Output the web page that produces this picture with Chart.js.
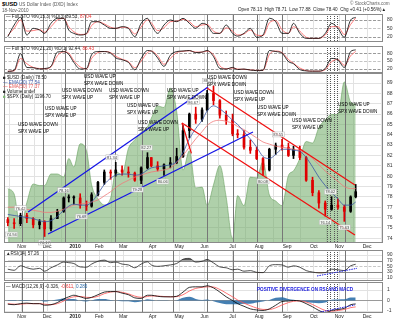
<!DOCTYPE html>
<html>
<head>
<meta charset="utf-8">
<title>$USD US Dollar Index</title>
<script src="https://cdn.jsdelivr.net/npm/chart.js"></script>
<style>
  html, body { margin: 0; padding: 0; background: #fff; }
  body { position: relative; width: 400px; height: 323px; overflow: hidden; font-family: "Liberation Sans", Arial, sans-serif; }
  canvas { position: absolute; left: 0; }
  .t { position: absolute; white-space: nowrap; font-size: 4.6px; line-height: 5px; color: #222; }
  .w { position: absolute; white-space: nowrap; font-size: 4.6px; line-height: 7px; color: #000; }
</style>
</head>
<body>
<canvas id="sto1" width="400" height="28" style="top:14px"></canvas>
<canvas id="sto2" width="400" height="27" style="top:46px"></canvas>
<canvas id="main" width="400" height="177" style="top:73px"></canvas>
<canvas id="rsi" width="400" height="31" style="top:250px"></canvas>
<canvas id="macd" width="400" height="38" style="top:282px"></canvas>

<div class="t" style="left:2px;top:0.5px;font-size:5.8px;line-height:6px;font-weight:bold;color:#000">$USD</div>
<div class="t" style="left:19px;top:1.5px;color:#555">US Dollar Index (DXD) Index</div>
<div class="t" style="left:2px;top:7.5px;color:#555">18-Nov-2010</div>
<div class="t" style="left:350px;top:1px;color:#666">&copy; StockCharts.com</div>
<div class="t" style="left:238px;top:7px;color:#222">Open 78.13&nbsp; High 78.71&nbsp; Low 77.88&nbsp; Close 78.40&nbsp; Chg +0.41 (+0.56%)&#9650;</div>

<div class="t" style="left:6px;top:13.5px">&mdash; Full STO %K(15,3) %D(3) 89.53, <span style="color:#e33">87.04</span></div>
<div class="t" style="left:6px;top:45.5px">&mdash; Full STO %K(21,20) %D(1) 92.44, <span style="color:#e33">86.43</span></div>

<div class="t" style="left:3px;top:74.5px">&#9632; $USD (Daily) 78.50</div>
<div class="t" style="left:3px;top:79.5px;color:#3a55a5">&mdash; EMA(20) 77.54</div>
<div class="t" style="left:3px;top:84px;color:#e25555">&mdash; EMA(50) 77.37</div>
<div class="t" style="left:3px;top:88.8px">&#9632; Volume undef</div>
<div class="t" style="left:3px;top:93.5px"><span style="color:#7db574">&#9632;</span> $SPX (Daily) 1196.70</div>

<div class="t" style="left:6px;top:250.5px">&#9650;RSI(14) 57.26</div>
<div class="t" style="left:6px;top:283.5px">&mdash; MACD(12,26,9) -0.326, <span style="color:#e33">-0.611</span>, <span style="color:#2b6aa8">0.285</span></div>
<div class="t" style="left:257px;top:286.5px;font-weight:bold;color:#1c1ce0">POSITIVE DIVERGENCE ON RSI AND MACD</div>

<div id="notes"></div>

<script>
// trading-day index of each weekly sample (Oct 16 2009 ... Nov 18 2010)
const days = [2, 7, 12, 17, 22, 27, 31, 36, 41, 46, 50, 54, 59, 64, 68, 73, 78, 83, 87, 92,
  97, 102, 107, 112, 115, 120, 125, 130, 135, 140, 145, 150, 155, 159, 164, 169, 174, 179, 183, 188,
  193, 198, 203, 208, 213, 218, 223, 227, 232, 237, 242, 247, 252, 257, 262, 267, 272, 276]

// $USD weekly candles
const closes = [75.5, 75.4, 76.2, 75.9, 75.3, 75.6, 74.9, 75.9, 76.6, 77.9, 77.9, 77.9, 77.2, 77.1, 78.2, 79.4, 80.4, 80.3, 80.6, 80.4,
  80.3, 79.6, 80.8, 81.8, 81.0, 80.7, 81.1, 81.3, 81.9, 84.4, 86.0, 85.5, 86.4, 88.0, 87.3, 85.9, 85.4, 84.1, 84.0, 82.8,
  82.5, 81.7, 80.6, 82.6, 83.0, 82.8, 82.0, 82.6, 81.8, 79.6, 78.4, 77.4, 76.8, 77.2, 77.0, 76.6, 78.0, 78.5]
const highs = [76.0, 75.9, 76.42, 76.4, 76.0, 75.8, 75.7, 76.2, 76.8, 78.0, 78.2, 78.1, 78.3, 77.6, 78.4, 79.5, 80.6, 80.6, 81.34, 81.0,
  80.9, 80.4, 80.9, 82.27, 81.8, 81.4, 81.2, 81.8, 82.7, 84.9, 86.1, 86.67, 86.6, 88.3, 88.71, 87.4, 86.3, 86.0, 84.5, 84.4,
  83.5, 82.8, 81.8, 82.7, 83.2, 83.55, 83.2, 82.9, 82.9, 81.9, 79.9, 78.6, 77.6, 78.02, 77.8, 77.2, 78.1, 79.2]
const lows = [75.2, 74.94, 75.2, 75.5, 75.0, 74.9, 74.17, 74.7, 75.9, 76.5, 77.5, 77.3, 76.9, 76.68, 77.0, 78.1, 79.2, 79.7, 80.0, 80.1,
  79.9, 79.5, 79.28, 80.7, 80.9, 80.5, 80.06, 80.8, 81.2, 81.8, 83.7, 85.1, 85.3, 86.3, 86.9, 85.6, 85.0, 83.9, 83.7, 82.6,
  82.2, 81.6, 80.08, 80.5, 82.1, 82.5, 81.9, 81.7, 81.6, 79.5, 78.1, 76.9, 76.14, 76.7, 76.8, 75.63, 76.5, 77.9]
const firstOpen = 75.8

const ema20 = [76.3, 76.2, 76.1, 76.0, 75.9, 75.7, 75.6, 75.7, 76.1, 76.7, 77.1, 77.3, 77.2, 77.2, 77.5, 78.3, 79.2, 79.8, 80.1, 80.2,
  80.2, 80.1, 80.2, 80.6, 80.8, 80.9, 81.0, 81.1, 81.4, 82.3, 83.6, 84.6, 85.4, 86.3, 86.8, 86.5, 86.0, 85.4, 85.0, 84.3,
  83.6, 82.8, 81.9, 81.7, 82.1, 82.6, 82.6, 82.5, 82.4, 81.8, 80.9, 79.9, 79.1, 78.4, 77.8, 77.2, 77.2, 77.5]
const ema50 = [77.0, 77.0, 76.9, 76.8, 76.7, 76.6, 76.5, 76.5, 76.6, 76.8, 77.0, 77.2, 77.3, 77.4, 77.5, 77.7, 78.1, 78.5, 78.9, 79.3,
  79.6, 79.9, 80.1, 80.3, 80.4, 80.5, 80.6, 80.8, 81.3, 82.0, 82.8, 83.6, 84.3, 84.9, 85.3, 85.4, 85.3, 85.1, 84.8, 84.5,
  84.1, 83.7, 83.3, 83.1, 82.9, 82.8, 82.7, 82.6, 82.5, 82.2, 81.7, 81.1, 80.5, 80.0, 79.5, 79.0, 78.8, 78.8]

// $SPX overlay (green area)
const spx = [1087, 1080, 1036, 1069, 1093, 1091, 1091, 1106, 1106, 1102, 1126, 1115, 1145, 1136, 1092, 1074, 1066, 1075, 1109, 1105,
  1139, 1150, 1160, 1167, 1178, 1194, 1192, 1217, 1187, 1111, 1136, 1088, 1089, 1065, 1092, 1117, 1076, 1022, 1078, 1065,
  1102, 1101, 1122, 1079, 1071, 1065, 1104, 1110, 1126, 1148, 1146, 1166, 1176, 1183, 1183, 1225, 1199, 1196]

const sto1K = [20, 62, 90, 26, 50, 44, 32, 68, 86, 86, 44, 32, 26, 32, 74, 74, 62, 50, 50, 56,
  50, 20, 68, 86, 62, 32, 62, 80, 74, 86, 68, 50, 68, 62, 32, 32, 62, 32, 22, 32,
  50, 18, 26, 86, 74, 32, 32, 68, 32, 14, 14, 14, 32, 68, 50, 18, 80, 89.5]
const sto1D = [25, 50, 80, 40, 42, 46, 36, 56, 80, 86, 56, 38, 28, 30, 60, 74, 66, 54, 50, 54,
  52, 30, 55, 80, 70, 42, 52, 74, 76, 82, 74, 56, 62, 64, 40, 32, 52, 40, 26, 30,
  44, 26, 24, 70, 78, 45, 32, 56, 40, 18, 14, 14, 26, 56, 56, 28, 64, 87]
const sto2K = [11, 15, 78, 26, 25, 20, 22, 30, 84, 86, 75, 45, 20, 22, 74, 86, 86, 80, 62, 55,
  45, 17, 60, 90, 88, 62, 30, 72, 86, 88, 90, 82, 84, 90, 67, 22, 20, 26, 18, 20,
  16, 14, 15, 90, 86, 80, 48, 40, 18, 13, 12, 12, 22, 60, 55, 26, 86, 92.4]
const sto2D = [12, 13, 60, 40, 26, 22, 21, 28, 70, 85, 80, 52, 28, 21, 60, 82, 86, 82, 68, 57,
  48, 25, 50, 82, 88, 70, 38, 60, 82, 87, 89, 84, 84, 88, 74, 32, 21, 24, 20, 19,
  17, 15, 15, 75, 88, 82, 56, 42, 24, 14, 12, 12, 18, 48, 56, 34, 70, 86.4]

const rsi = [40, 36, 52, 45, 40, 43, 33, 45, 55, 65, 63, 60, 48, 47, 58, 68, 72, 63, 65, 58,
  55, 45, 58, 66, 55, 50, 52, 55, 60, 75, 78, 65, 68, 74, 62, 48, 45, 38, 40, 33,
  35, 29, 28, 52, 56, 55, 47, 52, 47, 35, 30, 27, 28, 40, 38, 35, 52, 57.3]

const macd = [-0.35, -0.4, -0.3, -0.25, -0.3, -0.3, -0.45, -0.4, -0.2, 0.15, 0.35, 0.5, 0.35, 0.2, 0.3, 0.55, 0.8, 0.85, 0.85, 0.7,
  0.55, 0.25, 0.2, 0.5, 0.5, 0.4, 0.35, 0.35, 0.4, 0.8, 1.25, 1.3, 1.3, 1.4, 1.2, 0.8, 0.35, 0.0, -0.3, -0.55,
  -0.8, -0.9, -0.95, -0.8, -0.45, -0.1, -0.05, 0.0, -0.05, -0.3, -0.6, -0.95, -1.15, -0.95, -0.85, -0.75, -0.4, -0.33]
const signal = [-0.3, -0.35, -0.35, -0.3, -0.3, -0.3, -0.35, -0.4, -0.3, -0.05, 0.2, 0.35, 0.38, 0.3, 0.28, 0.4, 0.65, 0.8, 0.85, 0.78,
  0.63, 0.42, 0.3, 0.38, 0.43, 0.42, 0.38, 0.35, 0.37, 0.55, 0.9, 1.15, 1.25, 1.3, 1.28, 1.05, 0.7, 0.35, 0.05, -0.25,
  -0.5, -0.72, -0.85, -0.85, -0.7, -0.42, -0.2, -0.08, -0.05, -0.15, -0.38, -0.68, -0.95, -1.02, -0.95, -0.86, -0.68, -0.61]
const hist = [-0.05, -0.05, 0.05, 0.05, 0, 0, -0.1, 0, 0.1, 0.2, 0.15, 0.15, -0.03, -0.1, 0.02, 0.15, 0.15, 0.05, 0, -0.08,
  -0.08, -0.17, -0.1, 0.12, 0.07, -0.02, -0.03, 0, 0.03, 0.25, 0.35, 0.15, 0.05, 0.1, -0.08, -0.25, -0.35, -0.35, -0.35, -0.3,
  -0.3, -0.18, -0.1, 0.05, 0.25, 0.32, 0.15, 0.08, 0, -0.15, -0.22, -0.27, -0.2, 0.07, 0.1, 0.11, 0.28, 0.285]

// axis labels
const monthDays = [13, 33, 55, 74, 93, 116, 137, 157, 179, 200, 222, 243, 263, 285]
const monthNames = ['Nov', 'Dec', '2010', 'Feb', 'Mar', 'Apr', 'May', 'Jun', 'Jul', 'Aug', 'Sep', 'Oct', 'Nov', 'Dec']
const priceTicks = [74, 75, 76, 77, 78, 79, 80, 81, 82, 83, 84, 85, 86, 87, 88, 89]

// annotations drawn on the chart
const markDays = [13, 30, 47.1, 62.8, 86.5, 107.5, 132.1, 158.7, 179.4, 198, 217.7, 267.6]
const dotDays = [253.4, 256.1, 258.9, 261.3]
const hiloDays = [12, 5, 31, 46, 60, 84, 104, 111, 124, 148, 160, 203, 215, 256, 252, 267]
const hiloText = ['76.42', '74.94', '74.17', '78.16', '76.68', '81.34', '79.28', '82.27', '80.06', '86.67', '88.71', '80.08', '83.55', '78.02', '76.14', '75.63']
const hiloSide = [1, -1, -1, 1, -1, 1, -1, 1, -1, 1, 1, -1, 1, 1, -1, -1]
const trendLines = [
  { color: '#1515e6', from: [18, 76.54], to: [159.7, 88.61] },
  { color: '#1515e6', from: [33.7, 74.41], to: [195.1, 84.27] },
  { color: '#f01010', from: [158.9, 88.52], to: [275.4, 79.14] },
  { color: '#f01010', from: [139.2, 85.14], to: [275.4, 74.31] },
  { color: '#f01010', from: [139.2, 85.14], to: [146.6, 82.2] }
]
const waveNotes = [
  [18, 120.5, 'USD WAVE DOWN', 'SPX WAVE UP'],
  [45, 104.5, 'USD WAVE UP', 'SPX WAVE UP'],
  [62, 86.5, 'USD WAVE DOWN', 'SPX WAVE UP'],
  [84, 72.5, 'USD WAVE UP', 'SPX WAVE DOWN'],
  [109, 86.5, 'USD WAVE DOWN', 'SPX WAVE UP'],
  [127, 101.5, 'USD WAVE UP', 'SPX WAVE UP'],
  [138, 118.5, 'USD WAVE DOWN', 'SPX WAVE UP'],
  [167, 86.5, 'USD WAVE UP', 'SPX WAVE DOWN'],
  [207, 73.5, 'USD WAVE DOWN', 'SPX WAVE DOWN'],
  [234, 89, 'USD WAVE DOWN', 'SPX WAVE UP'],
  [257, 103.5, 'USD WAVE UP', 'SPX WAVE DOWN'],
  [292, 116.5, 'USD WAVE DOWN', 'SPX WAVE UP'],
  [338, 101, 'USD WAVE UP', 'SPX WAVE DOWN']
]

const notes = document.getElementById('notes')
for (const [left, top, a, b] of waveNotes) {
  const d = document.createElement('div')
  d.className = 'w'
  d.style.left = left + 'px'
  d.style.top = top + 'px'
  d.innerHTML = a + '<br>' + b
  notes.appendChild(d)
}

const FONT = '"Liberation Sans", Arial, sans-serif'
const pts = arr => days.map((d, i) => ({ x: d, y: arr[i] }))

function drawMarks (chart) {
  const { ctx, chartArea: a, scales: { x } } = chart
  ctx.save()
  ctx.lineWidth = 1
  ctx.strokeStyle = '#777'
  for (const d of markDays) {
    const p = Math.round(x.getPixelForValue(d)) + 0.5
    ctx.beginPath(); ctx.moveTo(p, a.top); ctx.lineTo(p, a.bottom); ctx.stroke()
  }
  ctx.setLineDash([1, 1])
  ctx.strokeStyle = '#555'
  for (const d of dotDays) {
    const p = Math.round(x.getPixelForValue(d)) + 0.5
    ctx.beginPath(); ctx.moveTo(p, a.top); ctx.lineTo(p, a.bottom); ctx.stroke()
  }
  ctx.restore()
}

// per-panel decoration: guide lines, annotation verticals, frame
function decor (opts) {
  return {
    id: 'decor',
    beforeDatasetsDraw (chart) {
      const { ctx, chartArea: a, scales: { y } } = chart
      ctx.save()
      for (const h of (opts.hlines || [])) {
        const p = Math.round(y.getPixelForValue(h.v)) + 0.5
        ctx.strokeStyle = h.c
        ctx.lineWidth = 1
        ctx.setLineDash(h.d || [])
        ctx.beginPath(); ctx.moveTo(a.left, p); ctx.lineTo(a.right, p); ctx.stroke()
      }
      ctx.restore()
      if (opts.markAfter === undefined) drawMarks(chart)
    },
    afterDatasetDraw (chart, args) {
      if (opts.markAfter === args.index) drawMarks(chart)
    },
    afterDatasetsDraw (chart) {
      if (opts.extra) opts.extra(chart)
      const { ctx, chartArea: a } = chart
      ctx.save()
      ctx.strokeStyle = '#8a8a8a'
      ctx.lineWidth = 1
      ctx.setLineDash([])
      ctx.strokeRect(Math.round(a.left) + 0.5, Math.round(a.top) + 0.5, Math.round(a.right - a.left) - 1, Math.round(a.bottom - a.top) - 1)
      ctx.restore()
    }
  }
}

function baseOptions (yMin, yMax, yTicks, showX, gridY) {
  return {
    responsive: false,
    animation: false,
    devicePixelRatio: 1,
    layout: { padding: { left: 4, right: 0, top: 0, bottom: 0 } },
    plugins: { legend: { display: false }, tooltip: { enabled: false } },
    elements: { point: { radius: 0 } },
    scales: {
      x: {
        type: 'linear', min: -1, max: 297.5, offset: false,
        afterBuildTicks: ax => { ax.ticks = monthDays.map(v => ({ value: v })) },
        afterFit: ax => { ax.height = showX ? 7 : 0; ax.paddingLeft = 0; ax.paddingRight = 0 },
        grid: { color: '#e2e2e2', drawTicks: false },
        border: { display: false },
        ticks: {
          display: showX, autoSkip: false, maxRotation: 0, padding: 1, color: '#222',
          font: c => ({ size: 5, family: FONT, weight: (c.tick && c.tick.label === '2010') ? 'bold' : 'normal' }),
          callback: (v, i) => monthNames[i]
        }
      },
      y: {
        position: 'right', min: yMin, max: yMax,
        afterBuildTicks: ax => { ax.ticks = yTicks.map(v => ({ value: v })) },
        afterFit: ax => { ax.width = 17; ax.paddingTop = 0; ax.paddingBottom = 0 },
        grid: { display: gridY, color: '#e2e2e2', drawTicks: false },
        border: { display: false },
        ticks: { autoSkip: false, padding: 4, color: '#333', font: { size: 5, family: FONT } }
      }
    }
  }
}

function line (data, color, order, extra) {
  return Object.assign({ type: 'line', data: pts(data), borderColor: color, borderWidth: 0.8, tension: 0.3, cubicInterpolationMode: 'monotone', fill: false, order: order }, extra || {})
}

// stochastic panels
const stoGuides = [
  { v: 80, c: '#9a9a9a', d: [3, 1.5] },
  { v: 50, c: '#c4c4c4', d: [3, 1.5] },
  { v: 20, c: '#9a9a9a', d: [3, 1.5] }
]
new Chart(document.getElementById('sto1'), {
  type: 'line',
  data: { datasets: [line(sto1K, '#000', 0), line(sto1D, '#ff5a5a', 1)] },
  options: baseOptions(1, 101.6, [20, 50, 80], false, false),
  plugins: [decor({ hlines: stoGuides })]
})
new Chart(document.getElementById('sto2'), {
  type: 'line',
  data: { datasets: [line(sto2K, '#000', 0), line(sto2D, '#ff5a5a', 1)] },
  options: baseOptions(5, 107, [20, 50, 80], false, false),
  plugins: [decor({ hlines: stoGuides })]
})

// price panel
const opens = [firstOpen].concat(closes.slice(0, -1))
const candleColors = closes.map((c, i) => c >= opens[i] ? '#000000' : '#e00000')
const mainOptions = baseOptions(73.54, 89.97, priceTicks, true, true)
mainOptions.scales.ys = { display: false, min: 1016.7, max: 1236.6 }

function drawPriceNotes (chart) {
  const { ctx, scales: { x, y } } = chart
  ctx.save()
  ctx.lineWidth = 1.3
  for (const t of trendLines) {
    ctx.strokeStyle = t.color
    ctx.beginPath()
    ctx.moveTo(x.getPixelForValue(t.from[0]), y.getPixelForValue(t.from[1]))
    ctx.lineTo(x.getPixelForValue(t.to[0]), y.getPixelForValue(t.to[1]))
    ctx.stroke()
  }
  ctx.font = '4px ' + FONT
  ctx.textAlign = 'center'
  ctx.textBaseline = 'middle'
  hiloDays.forEach((d, i) => {
    const px = x.getPixelForValue(d)
    const py = y.getPixelForValue(parseFloat(hiloText[i])) + (hiloSide[i] > 0 ? -5 : 6)
    const w = ctx.measureText(hiloText[i]).width + 2
    ctx.fillStyle = 'rgba(255,255,255,0.85)'
    ctx.fillRect(px - w / 2, py - 2.5, w, 5)
    ctx.strokeStyle = '#b5b5b5'
    ctx.lineWidth = 0.5
    ctx.strokeRect(px - w / 2, py - 2.5, w, 5)
    ctx.fillStyle = '#444'
    ctx.fillText(hiloText[i], px, py + 0.3)
  })
  ctx.restore()
}

new Chart(document.getElementById('main'), {
  type: 'line',
  data: {
    datasets: [
      line(ema20, '#3a55a5', 1, { label: 'EMA(20)' }),
      line(ema50, '#f07a7a', 1, { label: 'EMA(50)' }),
      { type: 'bar', label: '$USD', data: days.map((d, i) => ({ x: d, y: [opens[i], closes[i]] })), backgroundColor: candleColors, barThickness: 2, grouped: false, minBarLength: 1, order: 2 },
      { type: 'bar', label: '$USD range', data: days.map((d, i) => ({ x: d, y: [lows[i], highs[i]] })), backgroundColor: candleColors, barThickness: 1, grouped: false, order: 3 },
      line(spx, 'rgba(95,155,85,0.9)', 10, { label: '$SPX', yAxisID: 'ys', borderWidth: 0.6, backgroundColor: 'rgba(110,170,100,0.55)', fill: 'start', tension: 0.2 })
    ]
  },
  options: mainOptions,
  plugins: [decor({ markAfter: 4, extra: drawPriceNotes })]
})

// RSI panel
function drawRsiNote (chart) {
  const { ctx, scales: { x, y } } = chart
  ctx.save()
  ctx.strokeStyle = '#1c1ce0'
  ctx.lineWidth = 1
  ctx.setLineDash([1.5, 1])
  ctx.beginPath()
  ctx.moveTo(x.getPixelForValue(245.5), y.getPixelForValue(16))
  ctx.lineTo(x.getPixelForValue(277), y.getPixelForValue(43))
  ctx.stroke()
  ctx.restore()
}
new Chart(document.getElementById('rsi'), {
  type: 'line',
  data: {
    datasets: [
      line(rsi, '#222', 0, { tension: 0.25, fill: { target: { value: 70 }, above: 'rgba(70,70,70,0.9)', below: 'rgba(0,0,0,0)' } }),
      line(rsi, 'rgba(0,0,0,0)', 1, { tension: 0.25, borderWidth: 0, fill: { target: { value: 30 }, above: 'rgba(0,0,0,0)', below: 'rgba(150,105,85,0.85)' } })
    ]
  },
  options: baseOptions(-1.6, 107.6, [10, 30, 50, 70, 90], false, false),
  plugins: [decor({
    hlines: [
      { v: 90, c: '#e2e2e2' }, { v: 10, c: '#e2e2e2' },
      { v: 70, c: '#8a8a8a' }, { v: 50, c: '#c8c8c8', d: [3, 1.5] }, { v: 30, c: '#8a8a8a' }
    ],
    extra: drawRsiNote
  })]
})

// MACD panel
function drawMacdNote (chart) {
  const { ctx, scales: { x, y } } = chart
  ctx.save()
  ctx.strokeStyle = '#1c1ce0'
  ctx.lineWidth = 1
  ctx.setLineDash([1.5, 1])
  ctx.beginPath()
  ctx.moveTo(x.getPixelForValue(246), y.getPixelForValue(-1.15))
  ctx.lineTo(x.getPixelForValue(275.5), y.getPixelForValue(-0.42))
  ctx.stroke()
  ctx.restore()
}
new Chart(document.getElementById('macd'), {
  type: 'line',
  data: {
    datasets: [
      line(macd, '#000', 0),
      line(signal, '#ff5050', 1),
      line(hist, 'rgba(0,0,0,0)', 5, { borderWidth: 0, fill: { target: 'origin', above: 'rgba(35,105,165,0.85)', below: 'rgba(35,105,165,0.85)' } })
    ]
  },
  options: baseOptions(-1.19, 1.76, [-1, 0, 1], true, false),
  plugins: [decor({
    hlines: [{ v: 1, c: '#e2e2e2' }, { v: -1, c: '#e2e2e2' }, { v: 0, c: '#9a9a9a' }],
    extra: drawMacdNote
  })]
})
</script>
</body>
</html>
